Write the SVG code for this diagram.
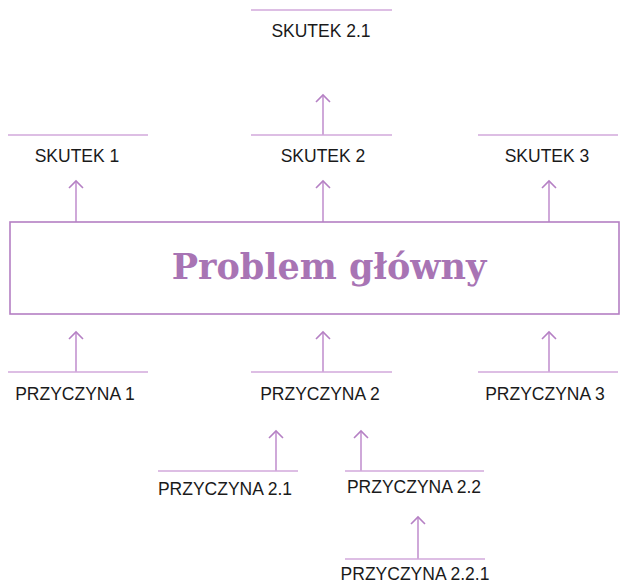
<svg xmlns="http://www.w3.org/2000/svg" width="620" height="585" viewBox="0 0 620 585">
<defs>
<marker id="ah" viewBox="0 0 10 16" refX="8" refY="8" markerWidth="10" markerHeight="16" markerUnits="userSpaceOnUse" orient="auto">
<path d="M1,1 L8,8 L1,15" fill="none" stroke="#b580c4" stroke-width="1.6"/>
</marker>
<style>
.bar{stroke:#d2a9db;stroke-width:1.6;fill:none}
.arr{stroke:#c393d0;stroke-width:1.6;fill:none;marker-end:url(#ah)}
.lbl{font-family:"Liberation Sans",Arial,sans-serif;font-size:17.5px;fill:#1a1a1a;text-anchor:middle}
.title{font-family:"DejaVu Serif",serif;font-weight:bold;font-size:35px;fill:#a874b4;text-anchor:middle}
</style>
</defs>
<rect width="620" height="585" fill="#ffffff"/>
<g id="connectors">
<line class="arr" x1="76" y1="222" x2="76" y2="181"/>
<line class="arr" x1="323" y1="222" x2="323" y2="181"/>
<line class="arr" x1="549" y1="222" x2="549" y2="181"/>
<line class="arr" x1="323" y1="135" x2="323" y2="95"/>
<line class="arr" x1="76" y1="372" x2="76" y2="332"/>
<line class="arr" x1="323" y1="372" x2="323" y2="332"/>
<line class="arr" x1="549" y1="372" x2="549" y2="332"/>
<line class="arr" x1="276" y1="471" x2="276" y2="431"/>
<line class="arr" x1="361" y1="471" x2="361" y2="431"/>
<line class="arr" x1="418" y1="559" x2="418" y2="517"/>
</g>
<g id="problem">
<rect x="10" y="222" width="609" height="92" fill="none" stroke="#b47fc3" stroke-width="1.6"/>
<text class="title" x="329" y="279">Problem główny</text>
</g>
<g id="skutek21">
<line class="bar" x1="251" y1="10" x2="392" y2="10"/>
<text class="lbl" x="321" y="37">SKUTEK 2.1</text>
</g>
<g id="skutek1">
<line class="bar" x1="8" y1="135" x2="148" y2="135"/>
<text class="lbl" x="77" y="162">SKUTEK 1</text>
</g>
<g id="skutek2">
<line class="bar" x1="251" y1="135" x2="392" y2="135"/>
<text class="lbl" x="323" y="162">SKUTEK 2</text>
</g>
<g id="skutek3">
<line class="bar" x1="478" y1="135" x2="618" y2="135"/>
<text class="lbl" x="547" y="162">SKUTEK 3</text>
</g>
<g id="przyczyna1">
<line class="bar" x1="8" y1="372" x2="148" y2="372"/>
<text class="lbl" x="75" y="400">PRZYCZYNA 1</text>
</g>
<g id="przyczyna2">
<line class="bar" x1="251" y1="372" x2="392" y2="372"/>
<text class="lbl" x="320" y="400">PRZYCZYNA 2</text>
</g>
<g id="przyczyna3">
<line class="bar" x1="478" y1="372" x2="618" y2="372"/>
<text class="lbl" x="545" y="400">PRZYCZYNA 3</text>
</g>
<g id="przyczyna21">
<line class="bar" x1="158" y1="471" x2="298" y2="471"/>
<text class="lbl" x="225" y="495">PRZYCZYNA 2.1</text>
</g>
<g id="przyczyna22">
<line class="bar" x1="345" y1="471" x2="484" y2="471"/>
<text class="lbl" x="414" y="493">PRZYCZYNA 2.2</text>
</g>
<g id="przyczyna221">
<line class="bar" x1="345" y1="559" x2="485" y2="559"/>
<text class="lbl" x="415" y="580">PRZYCZYNA 2.2.1</text>
</g>
</svg>
